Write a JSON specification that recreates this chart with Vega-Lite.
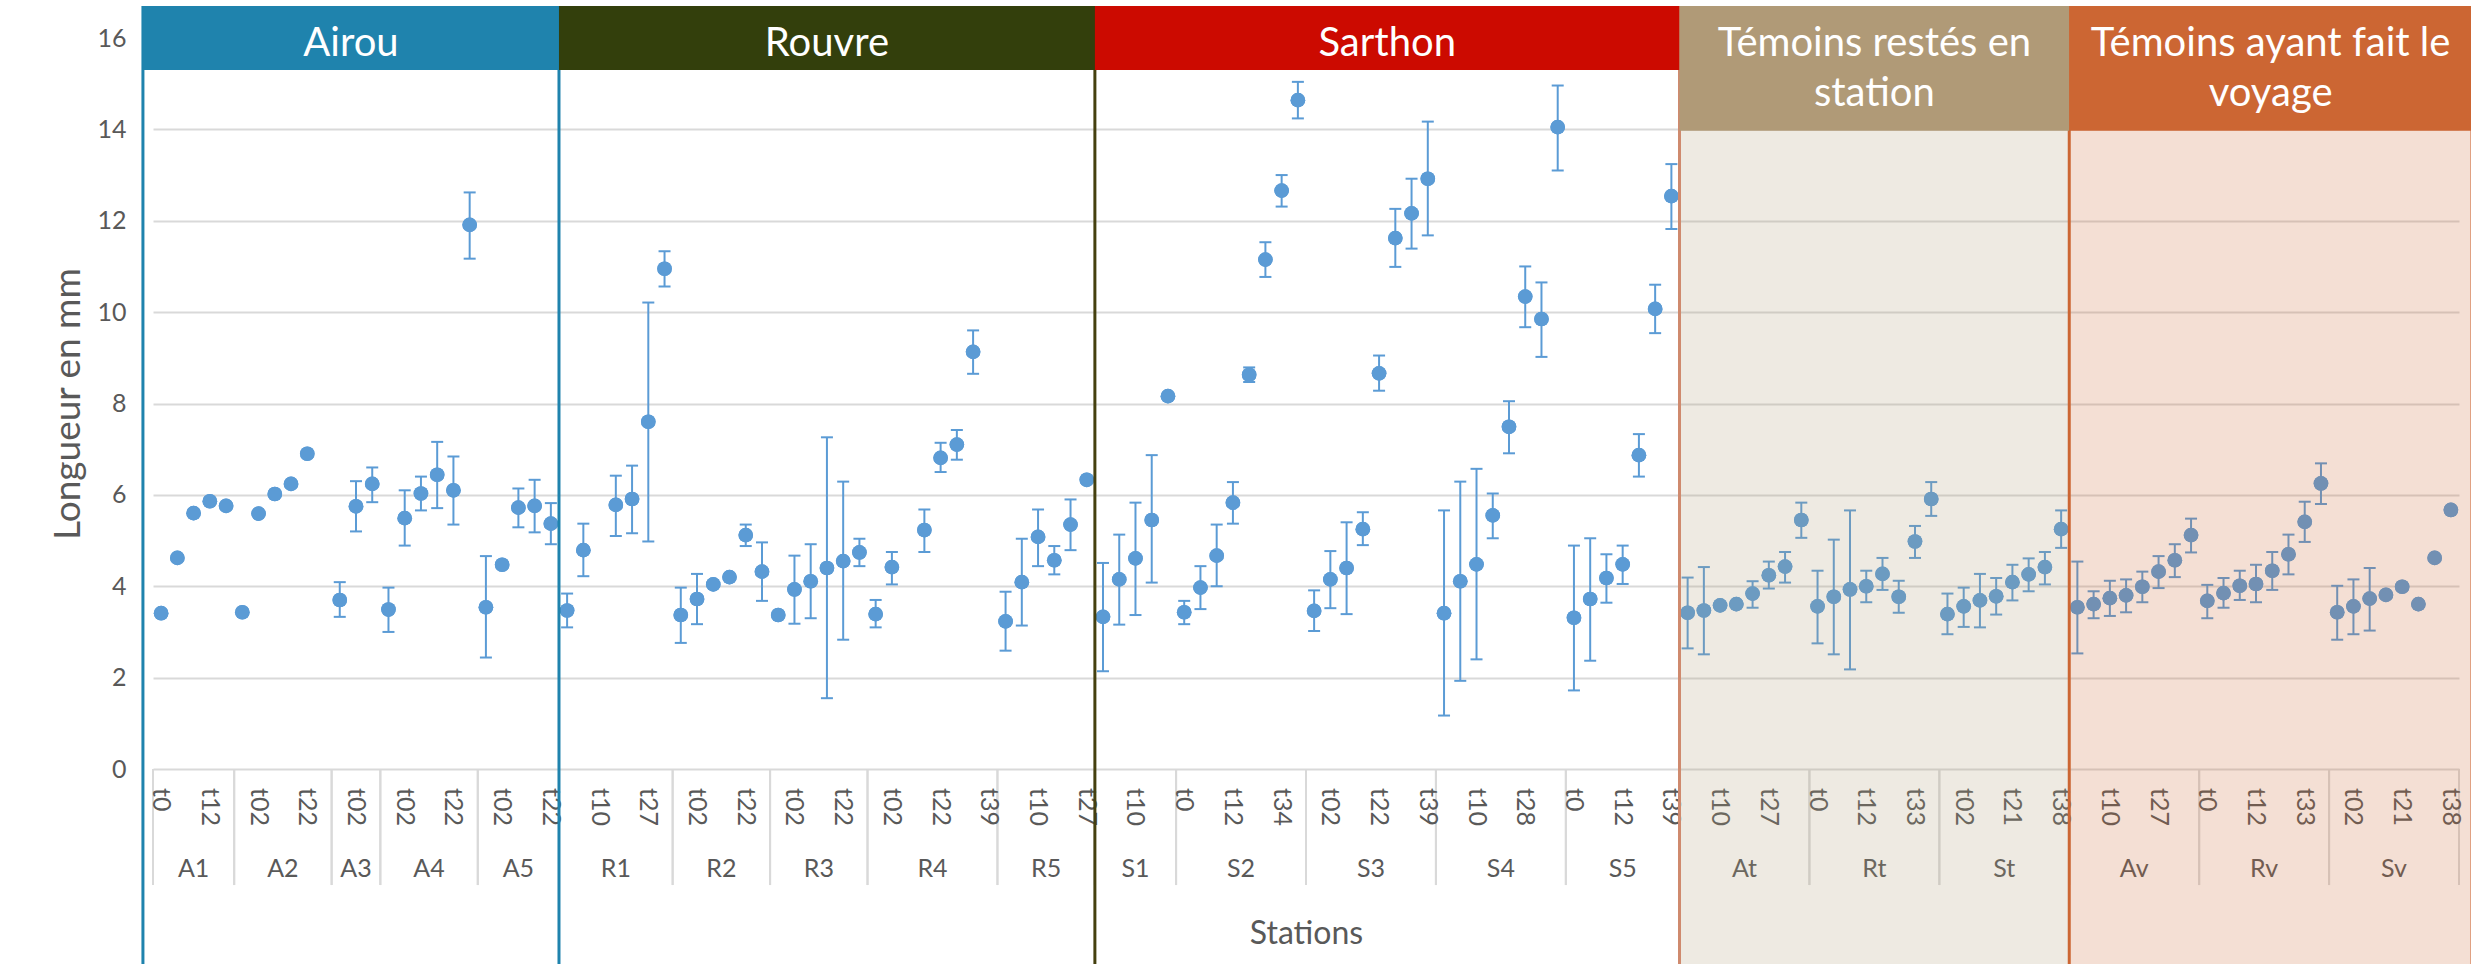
{
"$schema":"https://vega.github.io/schema/vega-lite/v6.json",
"autosize":"none","width":2306,"height":731,
"padding":{"left":153,"top":38,"right":12,"bottom":195},
"background":"white",
"config":{"view":{"stroke":null},"font":"Lato"},
"datasets":{
"pts":[
{"i":0,"g":"A1","t":"t0","m":3.41},{"i":1,"g":"A1","t":"t02","m":4.62},{"i":2,"g":"A1","t":"t10","m":5.60},{"i":3,"g":"A1","t":"t12","m":5.86},{"i":4,"g":"A1","t":"t22","m":5.76},
{"i":5,"g":"A2","t":"t0","m":3.43},{"i":6,"g":"A2","t":"t02","m":5.59},{"i":7,"g":"A2","t":"t10","m":6.02},{"i":8,"g":"A2","t":"t12","m":6.24},{"i":9,"g":"A2","t":"t22","m":6.90},{"i":10,"g":"A2","t":"t27","m":null},
{"i":11,"g":"A3","t":"t0","m":3.70,"lo":3.33,"hi":4.09},{"i":12,"g":"A3","t":"t02","m":5.75,"lo":5.20,"hi":6.30},{"i":13,"g":"A3","t":"t10","m":6.24,"lo":5.84,"hi":6.60},
{"i":14,"g":"A4","t":"t0","m":3.49,"lo":3.00,"hi":3.97},{"i":15,"g":"A4","t":"t02","m":5.49,"lo":4.89,"hi":6.10},{"i":16,"g":"A4","t":"t10","m":6.03,"lo":5.66,"hi":6.40},{"i":17,"g":"A4","t":"t12","m":6.44,"lo":5.71,"hi":7.16},{"i":18,"g":"A4","t":"t22","m":6.10,"lo":5.35,"hi":6.84},{"i":19,"g":"A4","t":"t27","m":11.91,"lo":11.17,"hi":12.62},
{"i":20,"g":"A5","t":"t0","m":3.54,"lo":2.44,"hi":4.66},{"i":21,"g":"A5","t":"t02","m":4.47},{"i":22,"g":"A5","t":"t10","m":5.72,"lo":5.29,"hi":6.14},{"i":23,"g":"A5","t":"t12","m":5.76,"lo":5.18,"hi":6.33},{"i":24,"g":"A5","t":"t22","m":5.37,"lo":4.92,"hi":5.82},
{"i":25,"g":"R1","t":"t0","m":3.47,"lo":3.10,"hi":3.84},{"i":26,"g":"R1","t":"t02","m":4.79,"lo":4.22,"hi":5.37},{"i":27,"g":"R1","t":"t10","m":null},{"i":28,"g":"R1","t":"t12","m":5.78,"lo":5.10,"hi":6.42},{"i":29,"g":"R1","t":"t22","m":5.91,"lo":5.16,"hi":6.64},{"i":30,"g":"R1","t":"t27","m":7.60,"lo":4.98,"hi":10.21},{"i":31,"g":"R1","t":"t34","m":10.95,"lo":10.56,"hi":11.33},
{"i":32,"g":"R2","t":"t0","m":3.37,"lo":2.76,"hi":3.97},{"i":33,"g":"R2","t":"t02","m":3.72,"lo":3.17,"hi":4.27},{"i":34,"g":"R2","t":"t10","m":4.04},{"i":35,"g":"R2","t":"t12","m":4.20},{"i":36,"g":"R2","t":"t22","m":5.12,"lo":4.88,"hi":5.35},{"i":37,"g":"R2","t":"t27","m":4.32,"lo":3.68,"hi":4.96},
{"i":38,"g":"R3","t":"t0","m":3.37},{"i":39,"g":"R3","t":"t02","m":3.93,"lo":3.18,"hi":4.67},{"i":40,"g":"R3","t":"t10","m":4.11,"lo":3.30,"hi":4.92},{"i":41,"g":"R3","t":"t12","m":4.40,"lo":1.55,"hi":7.26},{"i":42,"g":"R3","t":"t22","m":4.55,"lo":2.83,"hi":6.29},{"i":43,"g":"R3","t":"t27","m":4.74,"lo":4.44,"hi":5.04},
{"i":44,"g":"R4","t":"t0","m":3.39,"lo":3.10,"hi":3.70},{"i":45,"g":"R4","t":"t02","m":4.42,"lo":4.04,"hi":4.75},{"i":46,"g":"R4","t":"t10","m":null},{"i":47,"g":"R4","t":"t12","m":5.23,"lo":4.75,"hi":5.68},{"i":48,"g":"R4","t":"t22","m":6.81,"lo":6.50,"hi":7.14},{"i":49,"g":"R4","t":"t28","m":7.10,"lo":6.77,"hi":7.42},{"i":50,"g":"R4","t":"t34","m":9.13,"lo":8.65,"hi":9.60},{"i":51,"g":"R4","t":"t39","m":null},
{"i":52,"g":"R5","t":"t0","m":3.23,"lo":2.59,"hi":3.88},{"i":53,"g":"R5","t":"t02","m":4.09,"lo":3.14,"hi":5.04},{"i":54,"g":"R5","t":"t10","m":5.08,"lo":4.44,"hi":5.68},{"i":55,"g":"R5","t":"t12","m":4.57,"lo":4.26,"hi":4.88},{"i":56,"g":"R5","t":"t22","m":5.35,"lo":4.79,"hi":5.90},{"i":57,"g":"R5","t":"t27","m":6.33},
{"i":58,"g":"S1","t":"t0","m":3.33,"lo":2.14,"hi":4.51},{"i":59,"g":"S1","t":"t02","m":4.15,"lo":3.16,"hi":5.13},{"i":60,"g":"S1","t":"t10","m":4.61,"lo":3.37,"hi":5.83},{"i":61,"g":"S1","t":"t12","m":5.45,"lo":4.08,"hi":6.87},{"i":62,"g":"S1","t":"t22","m":8.16},
{"i":63,"g":"S2","t":"t0","m":3.43,"lo":3.17,"hi":3.68},{"i":64,"g":"S2","t":"t02","m":3.97,"lo":3.50,"hi":4.44},{"i":65,"g":"S2","t":"t10","m":4.67,"lo":4.00,"hi":5.35},{"i":66,"g":"S2","t":"t12","m":5.83,"lo":5.37,"hi":6.28},{"i":67,"g":"S2","t":"t22","m":8.63,"lo":8.47,"hi":8.79},{"i":68,"g":"S2","t":"t28","m":11.15,"lo":10.77,"hi":11.53},{"i":69,"g":"S2","t":"t34","m":12.66,"lo":12.31,"hi":13.00},{"i":70,"g":"S2","t":"t39","m":14.64,"lo":14.24,"hi":15.04},
{"i":71,"g":"S3","t":"t0","m":3.46,"lo":3.02,"hi":3.91},{"i":72,"g":"S3","t":"t02","m":4.15,"lo":3.52,"hi":4.77},{"i":73,"g":"S3","t":"t10","m":4.40,"lo":3.39,"hi":5.40},{"i":74,"g":"S3","t":"t12","m":5.25,"lo":4.90,"hi":5.62},{"i":75,"g":"S3","t":"t22","m":8.66,"lo":8.28,"hi":9.05},{"i":76,"g":"S3","t":"t28","m":11.62,"lo":10.99,"hi":12.26},{"i":77,"g":"S3","t":"t34","m":12.16,"lo":11.39,"hi":12.92},{"i":78,"g":"S3","t":"t39","m":12.92,"lo":11.68,"hi":14.17},
{"i":79,"g":"S4","t":"t0","m":3.41,"lo":1.17,"hi":5.66},{"i":80,"g":"S4","t":"t02","m":4.11,"lo":1.93,"hi":6.29},{"i":81,"g":"S4","t":"t10","m":4.48,"lo":2.40,"hi":6.57},{"i":82,"g":"S4","t":"t12","m":5.55,"lo":5.05,"hi":6.03},{"i":83,"g":"S4","t":"t22","m":7.49,"lo":6.91,"hi":8.05},{"i":84,"g":"S4","t":"t28","m":10.34,"lo":9.67,"hi":11.00},{"i":85,"g":"S4","t":"t34","m":9.85,"lo":9.02,"hi":10.65},{"i":86,"g":"S4","t":"t39","m":14.05,"lo":13.10,"hi":14.96},
{"i":87,"g":"S5","t":"t0","m":3.31,"lo":1.72,"hi":4.89},{"i":88,"g":"S5","t":"t02","m":3.72,"lo":2.37,"hi":5.05},{"i":89,"g":"S5","t":"t10","m":4.18,"lo":3.64,"hi":4.70},{"i":90,"g":"S5","t":"t12","m":4.48,"lo":4.05,"hi":4.89},{"i":91,"g":"S5","t":"t22","m":6.87,"lo":6.40,"hi":7.33},{"i":92,"g":"S5","t":"t28","m":10.07,"lo":9.54,"hi":10.60},{"i":93,"g":"S5","t":"t39","m":12.54,"lo":11.82,"hi":13.24},
{"i":94,"g":"At","t":"t0","m":3.42,"lo":2.64,"hi":4.19},{"i":95,"g":"At","t":"t02","m":3.47,"lo":2.51,"hi":4.42},{"i":96,"g":"At","t":"t10","m":3.58},{"i":97,"g":"At","t":"t12","m":3.61},{"i":98,"g":"At","t":"t21","m":3.84,"lo":3.53,"hi":4.11},{"i":99,"g":"At","t":"t27","m":4.24,"lo":3.95,"hi":4.54},{"i":100,"g":"At","t":"t33","m":4.43,"lo":4.08,"hi":4.75},{"i":101,"g":"At","t":"t38","m":5.45,"lo":5.06,"hi":5.83},
{"i":102,"g":"Rt","t":"t0","m":3.56,"lo":2.75,"hi":4.34},{"i":103,"g":"Rt","t":"t02","m":3.77,"lo":2.51,"hi":5.02},{"i":104,"g":"Rt","t":"t10","m":3.93,"lo":2.18,"hi":5.66},{"i":105,"g":"Rt","t":"t12","m":4.00,"lo":3.65,"hi":4.34},{"i":106,"g":"Rt","t":"t21","m":4.27,"lo":3.92,"hi":4.62},{"i":107,"g":"Rt","t":"t27","m":3.77,"lo":3.42,"hi":4.12},{"i":108,"g":"Rt","t":"t33","m":4.98,"lo":4.62,"hi":5.32},{"i":109,"g":"Rt","t":"t38","m":5.91,"lo":5.54,"hi":6.28},
{"i":110,"g":"St","t":"t0","m":3.39,"lo":2.95,"hi":3.84},{"i":111,"g":"St","t":"t02","m":3.56,"lo":3.11,"hi":3.97},{"i":112,"g":"St","t":"t10","m":3.69,"lo":3.10,"hi":4.27},{"i":113,"g":"St","t":"t12","m":3.78,"lo":3.38,"hi":4.18},{"i":114,"g":"St","t":"t21","m":4.09,"lo":3.69,"hi":4.47},{"i":115,"g":"St","t":"t27","m":4.26,"lo":3.89,"hi":4.61},{"i":116,"g":"St","t":"t33","m":4.42,"lo":4.04,"hi":4.75},{"i":117,"g":"St","t":"t38","m":5.25,"lo":4.84,"hi":5.66},
{"i":118,"g":"Av","t":"t0","m":3.54,"lo":2.53,"hi":4.54},{"i":119,"g":"Av","t":"t02","m":3.61,"lo":3.30,"hi":3.89},{"i":120,"g":"Av","t":"t10","m":3.74,"lo":3.35,"hi":4.12},{"i":121,"g":"Av","t":"t12","m":3.80,"lo":3.43,"hi":4.15},{"i":122,"g":"Av","t":"t21","m":3.99,"lo":3.65,"hi":4.32},{"i":123,"g":"Av","t":"t27","m":4.32,"lo":3.96,"hi":4.66},{"i":124,"g":"Av","t":"t33","m":4.57,"lo":4.20,"hi":4.92},{"i":125,"g":"Av","t":"t38","m":5.12,"lo":4.74,"hi":5.48},
{"i":126,"g":"Rv","t":"t0","m":3.68,"lo":3.30,"hi":4.03},{"i":127,"g":"Rv","t":"t02","m":3.85,"lo":3.53,"hi":4.18},{"i":128,"g":"Rv","t":"t10","m":4.01,"lo":3.70,"hi":4.34},{"i":129,"g":"Rv","t":"t12","m":4.05,"lo":3.65,"hi":4.47},{"i":130,"g":"Rv","t":"t21","m":4.34,"lo":3.92,"hi":4.75},{"i":131,"g":"Rv","t":"t27","m":4.70,"lo":4.26,"hi":5.13},{"i":132,"g":"Rv","t":"t33","m":5.41,"lo":4.97,"hi":5.85},{"i":133,"g":"Rv","t":"t38","m":6.25,"lo":5.80,"hi":6.69},
{"i":134,"g":"Sv","t":"t0","m":3.43,"lo":2.83,"hi":4.01},{"i":135,"g":"Sv","t":"t02","m":3.56,"lo":2.95,"hi":4.15},{"i":136,"g":"Sv","t":"t10","m":3.73,"lo":3.03,"hi":4.40},{"i":137,"g":"Sv","t":"t12","m":3.81},{"i":138,"g":"Sv","t":"t21","m":3.99},{"i":139,"g":"Sv","t":"t27","m":3.61},{"i":140,"g":"Sv","t":"t33","m":4.62},{"i":141,"g":"Sv","t":"t38","m":5.67}
],
"grp":[
{"g":"A1","a":0,"b":4},{"g":"A2","a":5,"b":10},{"g":"A3","a":11,"b":13},{"g":"A4","a":14,"b":19},{"g":"A5","a":20,"b":24},
{"g":"R1","a":25,"b":31},{"g":"R2","a":32,"b":37},{"g":"R3","a":38,"b":43},{"g":"R4","a":44,"b":51},{"g":"R5","a":52,"b":57},
{"g":"S1","a":58,"b":62},{"g":"S2","a":63,"b":70},{"g":"S3","a":71,"b":78},{"g":"S4","a":79,"b":86},{"g":"S5","a":87,"b":93},
{"g":"At","a":94,"b":101},{"g":"Rt","a":102,"b":109},{"g":"St","a":110,"b":117},
{"g":"Av","a":118,"b":125},{"g":"Rv","a":126,"b":133},{"g":"Sv","a":134,"b":141}
],
"pan":[
{"p":"Airou","x0":-1.12,"x1":24.5,"lab":"Airou"},
{"p":"Rouvre","x0":24.5,"x1":57.5,"lab":"Rouvre"},
{"p":"Sarthon","x0":57.5,"x1":93.5,"lab":"Sarthon"},
{"p":"Témoins restés","x0":93.5,"x1":117.5,"lab":["Témoins restés en","station"]},
{"p":"Témoins ayant","x0":117.5,"x1":142.3,"lab":["Témoins ayant fait le","voyage"]}
]
},
"layer":[
{"data":{"name":"pts"},"transform":[{"filter":"isValid(datum.m)"}],
 "mark":{"type":"circle","color":"#5B9BD5","size":215,"opacity":1},
 "encoding":{
 "x":{"field":"i","type":"quantitative","scale":{"domain":[-0.5,141.5],"nice":false,"zero":false},
   "axis":{"labels":false,"ticks":false,"domain":false,"grid":false,"title":"Stations","titleFontSize":32,"titleColor":"#595959","titleFontWeight":"normal","titleY":174,"titleBaseline":"alphabetic"}},
 "y":{"field":"m","type":"quantitative","scale":{"domain":[0,16],"nice":false,"zero":false},
   "axis":{"values":[0,2,4,6,8,10,12,14,16],"grid":true,"gridColor":"#D9D9D9","gridWidth":2,"domain":false,"ticks":false,"labelPadding":27,"labelFontSize":25,"labelColor":"#595959","title":"Longueur en mm","titleFontSize":37,"titleFontWeight":"normal","titleColor":"#595959","titleX":-85,"titleBaseline":"middle"}}}},
{"data":{"name":"grp"},"transform":[{"calculate":"datum.a-0.5","as":"l"}],
 "mark":{"type":"rule","color":"#D9D9D9","strokeWidth":2},
 "encoding":{"x":{"field":"l","type":"quantitative","scale":{"domain":[-0.5,141.5],"nice":false,"zero":false}},
 "y":{"datum":0,"type":"quantitative","scale":{"domain":[0,16],"nice":false,"zero":false}},"y2":{"datum":-2.54}}},
{"data":{"name":"grp"},"transform":[{"calculate":"datum.b+0.5","as":"r"}],
 "mark":{"type":"rule","color":"#D9D9D9","strokeWidth":2},
 "encoding":{"x":{"field":"r","type":"quantitative","scale":{"domain":[-0.5,141.5],"nice":false,"zero":false}},
 "y":{"datum":0,"type":"quantitative","scale":{"domain":[0,16],"nice":false,"zero":false}},"y2":{"datum":-2.54}}},
{"data":{"name":"pts"},"transform":[{"filter":"datum.i % 3 == 0"}],
 "mark":{"type":"text","angle":90,"align":"left","baseline":"middle","fontSize":25,"color":"#595959"},
 "encoding":{"x":{"field":"i","type":"quantitative","scale":{"domain":[-0.5,141.5],"nice":false,"zero":false}},
 "y":{"datum":-0.416,"type":"quantitative","scale":{"domain":[0,16],"nice":false,"zero":false}},"text":{"field":"t"}}},
{"data":{"name":"grp"},"transform":[{"calculate":"(datum.a+datum.b)/2","as":"c"}],
 "mark":{"type":"text","align":"center","baseline":"alphabetic","fontSize":25,"color":"#595959"},
 "encoding":{"x":{"field":"c","type":"quantitative","scale":{"domain":[-0.5,141.5],"nice":false,"zero":false}},
 "y":{"datum":-2.364,"type":"quantitative","scale":{"domain":[0,16],"nice":false,"zero":false}},"text":{"field":"g"}}},
{"data":{"name":"pts"},"transform":[{"filter":"isValid(datum.lo)"}],
 "mark":{"type":"rule","color":"#5B9BD5","strokeWidth":2},
 "encoding":{"x":{"field":"i","type":"quantitative","scale":{"domain":[-0.5,141.5],"nice":false,"zero":false}},
 "y":{"field":"lo","type":"quantitative","scale":{"domain":[0,16],"nice":false,"zero":false}},"y2":{"field":"hi"}}},
{"data":{"name":"pts"},"transform":[{"filter":"isValid(datum.lo)"}],
 "mark":{"type":"tick","orient":"horizontal","color":"#5B9BD5","size":12,"thickness":2,"opacity":1},
 "encoding":{"x":{"field":"i","type":"quantitative","scale":{"domain":[-0.5,141.5],"nice":false,"zero":false}},
 "y":{"field":"lo","type":"quantitative","scale":{"domain":[0,16],"nice":false,"zero":false}}}},
{"data":{"name":"pts"},"transform":[{"filter":"isValid(datum.hi)"}],
 "mark":{"type":"tick","orient":"horizontal","color":"#5B9BD5","size":12,"thickness":2,"opacity":1},
 "encoding":{"x":{"field":"i","type":"quantitative","scale":{"domain":[-0.5,141.5],"nice":false,"zero":false}},
 "y":{"field":"hi","type":"quantitative","scale":{"domain":[0,16],"nice":false,"zero":false}}}},
{"data":{"name":"pts"},"transform":[{"filter":"isValid(datum.m)"}],
 "mark":{"type":"circle","color":"#5B9BD5","size":215,"opacity":1},
 "encoding":{"x":{"field":"i","type":"quantitative","scale":{"domain":[-0.5,141.5],"nice":false,"zero":false}},
 "y":{"field":"m","type":"quantitative","scale":{"domain":[0,16],"nice":false,"zero":false}}}},
{"data":{"name":"pan"},"transform":[{"filter":"isArray(datum.lab)"}],
 "mark":{"type":"rect","opacity":0.21},
 "encoding":{"x":{"field":"x0","type":"quantitative","scale":{"domain":[-0.5,141.5],"nice":false,"zero":false}},"x2":{"field":"x1"},
 "y":{"datum":16.7,"type":"quantitative","scale":{"domain":[0,16],"nice":false,"zero":false}},"y2":{"datum":-4.3},
 "color":{"field":"p","type":"nominal","legend":null,"scale":{"domain":["Airou","Rouvre","Sarthon","Témoins restés","Témoins ayant"],"range":["#1F83AD","#333F0C","#CC0A00","#B09A77","#CC6633"]}}}},
{"data":{"name":"pan"},
 "mark":{"type":"rule","strokeWidth":3},
 "encoding":{"x":{"field":"x1","type":"quantitative","scale":{"domain":[-0.5,141.5],"nice":false,"zero":false}},
 "y":{"datum":16.7,"type":"quantitative","scale":{"domain":[0,16],"nice":false,"zero":false}},"y2":{"datum":-4.3},
 "stroke":{"field":"p","type":"nominal","legend":null,"scale":{"domain":["Airou","Rouvre","Sarthon","Témoins restés","Témoins ayant"],"range":["#1F83AD","#45400F","#CF8A6E","#CC6633","#CC6633"]}}}},
{"data":{"name":"pan"},"transform":[{"filter":"datum.p == 'Airou'"}],
 "mark":{"type":"rule","strokeWidth":3,"color":"#1F83AD"},
 "encoding":{"x":{"field":"x0","type":"quantitative","scale":{"domain":[-0.5,141.5],"nice":false,"zero":false}},
 "y":{"datum":16.7,"type":"quantitative","scale":{"domain":[0,16],"nice":false,"zero":false}},"y2":{"datum":-4.3}}},
{"data":{"name":"pan"},"transform":[{"filter":"!isArray(datum.lab)"}],
 "mark":{"type":"rect"},
 "encoding":{"x":{"field":"x0","type":"quantitative","scale":{"domain":[-0.5,141.5],"nice":false,"zero":false}},"x2":{"field":"x1"},
 "y":{"datum":16.7,"type":"quantitative","scale":{"domain":[0,16],"nice":false,"zero":false}},"y2":{"datum":15.3},
 "color":{"field":"p","type":"nominal","legend":null}}},
{"data":{"name":"pan"},"transform":[{"filter":"isArray(datum.lab)"}],
 "mark":{"type":"rect"},
 "encoding":{"x":{"field":"x0","type":"quantitative","scale":{"domain":[-0.5,141.5],"nice":false,"zero":false}},"x2":{"field":"x1"},
 "y":{"datum":16.7,"type":"quantitative","scale":{"domain":[0,16],"nice":false,"zero":false}},"y2":{"datum":13.97},
 "color":{"field":"p","type":"nominal","legend":null}}},
{"data":{"name":"pan"},"transform":[{"calculate":"(datum.x0+datum.x1)/2","as":"c"}],
 "mark":{"type":"text","align":"center","baseline":"alphabetic","fontSize":40,"color":"white","lineHeight":50},
 "encoding":{"x":{"field":"c","type":"quantitative","scale":{"domain":[-0.5,141.5],"nice":false,"zero":false}},
 "y":{"datum":15.6,"type":"quantitative","scale":{"domain":[0,16],"nice":false,"zero":false}},"text":{"field":"lab"}}},
{"mark":{"type":"rule","color":"black","strokeWidth":3},
 "encoding":{"x":{"datum":-9.27,"type":"quantitative","scale":{"domain":[-0.5,141.5],"nice":false,"zero":false}},
 "y":{"datum":16.68,"type":"quantitative","scale":{"domain":[0,16],"nice":false,"zero":false}},"y2":{"datum":-4.3}}},
{"mark":{"type":"rule","color":"black","strokeWidth":3},
 "encoding":{"x":{"datum":-9.27,"type":"quantitative","scale":{"domain":[-0.5,141.5],"nice":false,"zero":false}},"x2":{"datum":-1.12},
 "y":{"datum":16.68,"type":"quantitative","scale":{"domain":[0,16],"nice":false,"zero":false}}}}
]
}
